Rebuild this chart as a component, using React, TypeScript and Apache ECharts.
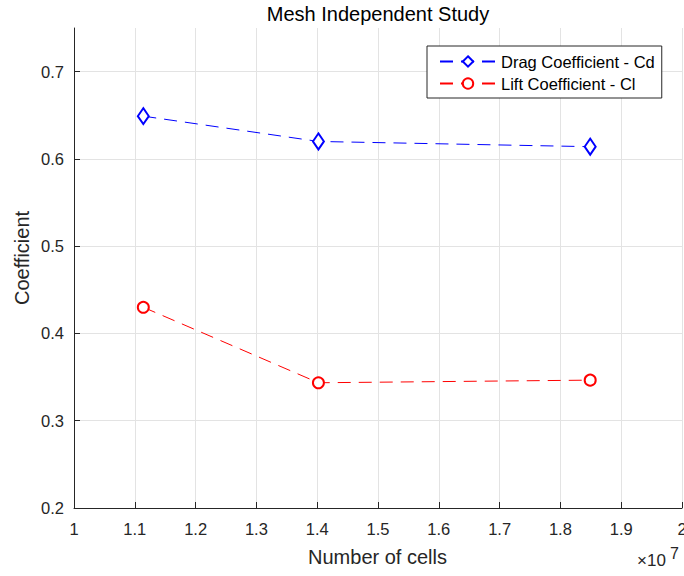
import React, { useEffect, useRef } from "react";
import * as echarts from "echarts";

// Mesh sizes (number of cells) and the resulting force coefficients
const cellCounts = [1.114e7, 1.402e7, 1.849e7];
const dragCoeff = [0.649, 0.62, 0.614];
const liftCoeff = [0.43, 0.3435, 0.3465];

const seriesNames = ["Drag Coefficient - Cd", "Lift Coefficient - Cl"];
const yTicks = [0.2, 0.3, 0.4, 0.5, 0.6, 0.7];

const FONT = "'Liberation Sans', Arial, Helvetica, sans-serif";
const INK = "#262626";
const GRID = "#e3e3e3";

export default function App() {
  const ref = useRef<HTMLDivElement>(null);

  useEffect(() => {
    if (!ref.current) return;
    const chart = echarts.init(ref.current, null, { renderer: "svg" });

    const option: echarts.EChartsOption = {
      animation: false,
      backgroundColor: "#ffffff",
      textStyle: { fontFamily: FONT },
      grid: {
        left: 74,
        right: 2,
        top: 28,
        bottom: 68,
        containLabel: false,
        outerBoundsMode: "none",
      } as any,
      legend: {
        orient: "vertical",
        left: 427,
        top: 46,
        padding: [6, 7, 5, 12],
        itemGap: 3,
        itemWidth: 56,
        itemHeight: 13,
        borderColor: INK,
        borderWidth: 1,
        borderRadius: 0,
        backgroundColor: "#ffffff",
        itemStyle: { borderWidth: 1 },
        textStyle: { fontFamily: FONT, fontSize: 16.5, color: "#000", lineHeight: 19 },
        data: seriesNames,
      },
      xAxis: {
        type: "value",
        min: 1e7,
        max: 2e7,
        interval: 1e6,
        axisLine: { show: true, lineStyle: { color: INK, width: 1 } },
        axisTick: { show: true, inside: true, length: 6, lineStyle: { color: INK } },
        axisLabel: {
          color: INK,
          fontSize: 16.5,
          fontFamily: FONT,
          margin: 12,
          formatter: (v: number) => String(Math.round(v / 1e5) / 100),
        },
        splitLine: { show: true, lineStyle: { color: GRID, width: 1 } },
      },
      yAxis: {
        type: "value",
        min: 0.2,
        max: 0.75,
        axisLine: { show: true, lineStyle: { color: INK, width: 1 } },
        axisTick: {
          show: true,
          inside: true,
          length: 6,
          lineStyle: { color: INK },
          customValues: yTicks,
        },
        axisLabel: {
          color: INK,
          fontSize: 16.5,
          fontFamily: FONT,
          margin: 10,
          customValues: yTicks,
          formatter: (v: number) => v.toFixed(1),
        },
        splitLine: { show: true, lineStyle: { color: GRID, width: 1 } },
      },
      graphic: [
        {
          type: "text",
          x: 378,
          y: 14,
          style: {
            text: "Mesh Independent Study",
            font: `20px ${FONT}`,
            fill: "#000",
            textAlign: "center",
            textVerticalAlign: "middle",
          },
        },
        {
          type: "text",
          x: 377.5,
          y: 557,
          style: {
            text: "Number of cells",
            font: `20px ${FONT}`,
            fill: INK,
            textAlign: "center",
            textVerticalAlign: "middle",
          },
        },
        {
          type: "text",
          x: 22,
          y: 258,
          rotation: Math.PI / 2,
          style: {
            text: "Coefficient",
            font: `20px ${FONT}`,
            fill: INK,
            textAlign: "center",
            textVerticalAlign: "middle",
          },
        },
        {
          type: "text",
          x: 637,
          y: 569,
          style: {
            text: "×10",
            font: `17px ${FONT}`,
            fill: INK,
            textAlign: "left",
            textVerticalAlign: "bottom",
          },
        },
        {
          type: "text",
          x: 670,
          y: 561,
          style: {
            text: "7",
            font: `16px ${FONT}`,
            fill: INK,
            textAlign: "left",
            textVerticalAlign: "bottom",
          },
        },
      ],
      series: [
        {
          name: seriesNames[0],
          type: "line",
          data: cellCounts.map((x, i) => [x, dragCoeff[i]]),
          symbol: "emptyDiamond",
          symbolSize: [11, 16],
          itemStyle: { color: "#0000ff", borderWidth: 1 },
          lineStyle: { color: "#0000ff", width: 1, type: [13, 8] },
          z: 3,
        },
        {
          name: seriesNames[1],
          type: "line",
          data: cellCounts.map((x, i) => [x, liftCoeff[i]]),
          symbol: "emptyCircle",
          symbolSize: 11,
          itemStyle: { color: "#ff0000", borderWidth: 1 },
          lineStyle: { color: "#ff0000", width: 1, type: [13, 8] },
          z: 3,
        },
      ],
    };

    chart.setOption(option);
    return () => chart.dispose();
  }, []);

  return (
    <div
      ref={ref}
      style={{ position: "fixed", left: 0, top: 0, width: 684, height: 576 }}
    />
  );
}
